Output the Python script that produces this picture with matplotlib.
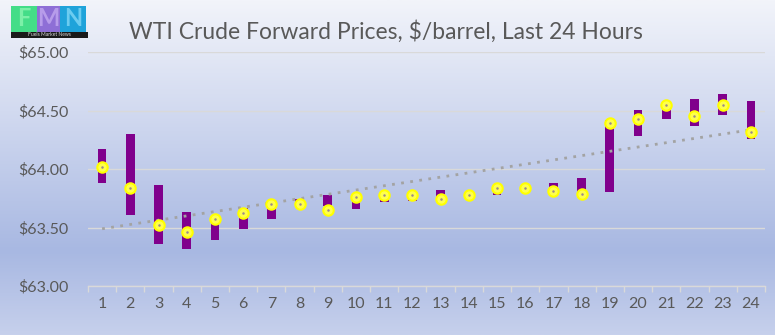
import matplotlib.pyplot as plt
import numpy as np
from matplotlib.colors import LinearSegmentedColormap
from matplotlib.patches import Rectangle

hours = list(range(1, 25))
bar_top = [64.17, 64.30, 63.86, 63.63, 63.59, 63.67, 63.72, 63.74, 63.78, 63.77, 63.79, 63.79,
           63.82, 63.79, 63.85, 63.85, 63.88, 63.92, 64.42, 64.50, 64.58, 64.60, 64.645, 64.585]
bar_bottom = [63.88, 63.61, 63.36, 63.32, 63.39, 63.49, 63.57, 63.68, 63.68, 63.66, 63.72, 63.73,
              63.76, 63.77, 63.78, 63.83, 63.80, 63.78, 63.80, 64.28, 64.43, 64.37, 64.46, 64.26]
last_price = [64.02, 63.84, 63.52, 63.46, 63.57, 63.62, 63.70, 63.70, 63.65, 63.76, 63.78, 63.78,
              63.74, 63.78, 63.84, 63.84, 63.81, 63.79, 64.39, 64.43, 64.55, 64.45, 64.55, 64.32]
y_ticks = [63.0, 63.5, 64.0, 64.5, 65.0]
title = "WTI Crude Forward Prices, $/barrel, Last 24 Hours"

FONT = "Lato"
TEXT = "#595959"
GRID = "#D9D9D9"
PURPLE = "#80008C"

fig = plt.figure(figsize=(7.75, 3.35), dpi=100)

# background gradient over the whole figure
bg = fig.add_axes([0, 0, 1, 1], zorder=-10)
cmap = LinearSegmentedColormap.from_list("bg", [
    (0.0, (242 / 255, 244 / 255, 250 / 255)),
    (0.33, (210 / 255, 218 / 255, 240 / 255)),
    (0.75, (168 / 255, 184 / 255, 226 / 255)),
    (1.0, (198 / 255, 208 / 255, 236 / 255)),
])
bg.imshow(np.linspace(0, 1, 256).reshape(-1, 1), cmap=cmap, aspect="auto", extent=[0, 1, 0, 1])
bg.set_xlim(0, 1)
bg.set_ylim(0, 1)
bg.axis("off")

# logo
logo = [("F", 11, "#44DD88", "#7CF0A8"), ("M", 37, "#8E6FD6", "#B79CEA"), ("N", 60, "#1FA3DA", "#6CCCF0")]
for letter, x0, dark, light in logo:
    w = 26 if letter != "M" else 23
    bg.add_patch(Rectangle((x0 / 775, 1 - 32 / 335), w / 775, 26 / 335, color=dark, lw=0))
    bg.text((x0 + w / 2) / 775, 1 - 19 / 335, letter, color=light, fontsize=17, fontweight="bold",
            family=FONT, ha="center", va="center")
bg.add_patch(Rectangle((11 / 775, 1 - 38 / 335), 77 / 775, 6 / 335, color="#1A1A1A", lw=0))
bg.text(49.5 / 775, 1 - 35 / 335, "Fuels Market News", color="#DDDDDD", fontsize=3.6,
        family=FONT, ha="center", va="center")

ax = fig.add_axes([88 / 775, 1 - 286 / 335, 677 / 775, 234 / 335])
ax.set_facecolor("none")

heights = [t - b for t, b in zip(bar_top, bar_bottom)]
ax.bar(hours, heights, bottom=bar_bottom, width=0.31, color=PURPLE, zorder=3)

slope, intercept = np.polyfit(hours, last_price, 1)
trend = [slope * h + intercept for h in hours]
ax.plot(hours, trend, color="#A3A3A3", lw=2.0, linestyle=(0, (1, 2.3)), zorder=4)

ax.plot(hours, last_price, linestyle="none", marker="o", markersize=7.5, markerfacecolor="#FFFF4D",
        markeredgecolor="#FFFF00", markeredgewidth=1.5, zorder=5)
ax.plot(hours, last_price, linestyle="none", marker="o", markersize=1.8, markerfacecolor="#9A8A8A",
        markeredgewidth=0, zorder=6)

ax.set_xlim(0.5, 24.5)
ax.set_ylim(63.0, 65.0)
ax.set_yticks(y_ticks)
ax.set_yticklabels([f"${v:.2f}" for v in y_ticks])
ax.set_xticks(hours)
ax.set_xticklabels([str(h) for h in hours])
ax.set_xticks([h + 0.5 for h in [0] + hours], minor=True)
ax.tick_params(axis="x", which="major", length=0, pad=8, labelsize=11.5, labelcolor=TEXT)
ax.tick_params(axis="x", which="minor", length=4.5, width=1, color=GRID)
ax.tick_params(axis="y", length=0, pad=14, labelsize=11.5, labelcolor=TEXT)
for lab in ax.get_xticklabels() + ax.get_yticklabels():
    lab.set_family(FONT)

ax.grid(axis="y", color=GRID, lw=1, zorder=0)
for side in ["top", "right", "left"]:
    ax.spines[side].set_visible(False)
ax.spines["bottom"].set_color(GRID)
ax.spines["bottom"].set_linewidth(1)

fig.text(386 / 775, 1 - 32 / 335, title, ha="center", va="center", fontsize=16.5, color=TEXT, family=FONT)

fig.savefig("out.png", dpi=100)
